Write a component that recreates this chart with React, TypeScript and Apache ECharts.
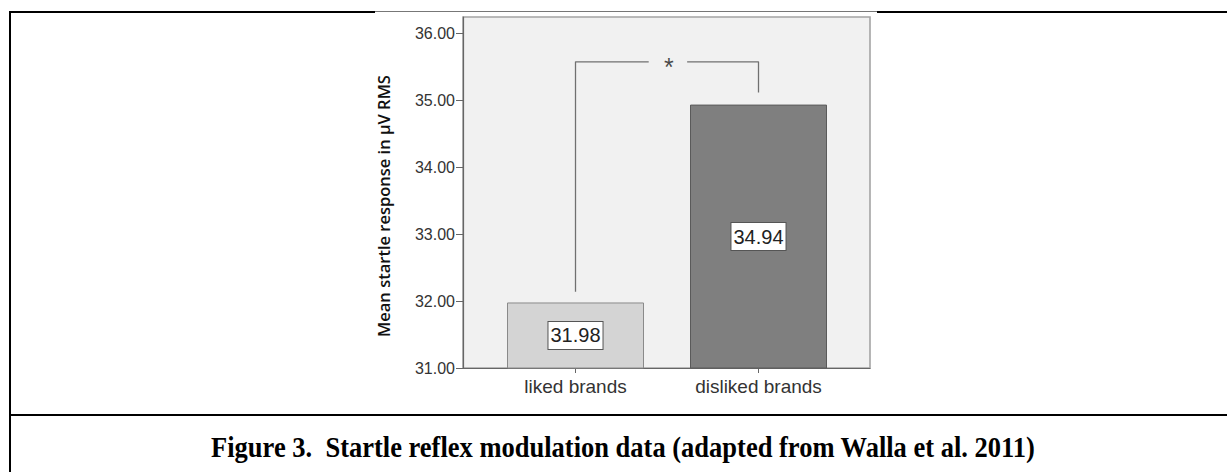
import React, { useEffect, useRef } from "react";
import * as echarts from "echarts";

const categories = ["liked brands", "disliked brands"];
const categoryPositions = [0, 1];
const meanValues = [31.98, 34.94];
const barColors = ["#d4d4d4", "#7f7f7f"];
const barBorders = ["#8a8a8a", "#5a5a5a"];
const yTicks = [31, 32, 33, 34, 35, 36];
const bracketLeft = [[0, 32.14], [0, 35.58], [0.4, 35.58]];
const bracketRight = [[0.61, 35.58], [1, 35.58], [1, 35.12]];
const starPoint = [[0.51, 35.58]];
const yAxisTitle = "Mean startle response in µV RMS";
const caption = "Figure 3.  Startle reflex modulation data (adapted from Walla et al. 2011)";

export default function App() {
  const ref = useRef<HTMLDivElement>(null);
  useEffect(() => {
    if (!ref.current) return;
    const chart = echarts.init(ref.current, null, { renderer: "svg" });
    const option: any = {
      animation: false,
      backgroundColor: "#ffffff",
      grid: {
        left: 463,
        right: 357,
        top: 17,
        bottom: 104,
        show: true,
        backgroundColor: "#f1f1f1",
        borderColor: "#a4a4a4",
        borderWidth: 1.6,
      },
      graphic: [
        { type: "line", shape: { x1: 10, y1: 12, x2: 10, y2: 472 }, style: { stroke: "#000", lineWidth: 2 } },
        { type: "line", shape: { x1: 9, y1: 12, x2: 375, y2: 12 }, style: { stroke: "#000", lineWidth: 2 } },
        { type: "line", shape: { x1: 375, y1: 11.5, x2: 877, y2: 11.5 }, style: { stroke: "#777", lineWidth: 1 } },
        { type: "line", shape: { x1: 877, y1: 12, x2: 1227, y2: 12 }, style: { stroke: "#000", lineWidth: 2 } },
        { type: "line", shape: { x1: 9, y1: 415, x2: 1227, y2: 415 }, style: { stroke: "#000", lineWidth: 2 } },
        {
          type: "text",
          x: 623,
          y: 447,
          scaleY: 1.08,
          style: {
            text: caption,
            fontFamily: "Liberation Serif",
            fontWeight: "bold",
            fontSize: 26.5,
            fill: "#000",
            align: "center",
            verticalAlign: "middle",
          },
        },
      ],
      xAxis: {
        type: "value",
        min: -0.6148,
        max: 1.6093,
        splitLine: { show: false },
        axisLine: { show: true, onZero: false, lineStyle: { color: "#666", width: 1.2 } },
        axisTick: { show: true, length: 5, customValues: categoryPositions, lineStyle: { color: "#666" } },
        axisLabel: {
          fontFamily: "Liberation Sans",
          fontSize: 19,
          color: "#333",
          margin: 9,
          customValues: categoryPositions,
          formatter: (v: number) => categories[Math.round(v)] ?? "",
        },
      },
      yAxis: {
        type: "value",
        min: 31,
        max: 36.25,
        name: yAxisTitle,
        nameLocation: "middle",
        nameGap: 71,
        nameTextStyle: {
          fontFamily: "Open Sans",
          fontWeight: 600,
          fontSize: 16.5,
          color: "#111",
          padding: [0, 27, 0, 0],
        },
        axisLine: { show: true, onZero: false, lineStyle: { color: "#666", width: 1.2 } },
        axisTick: { show: true, length: 7, customValues: yTicks, lineStyle: { color: "#666" } },
        axisLabel: {
          fontFamily: "Liberation Sans",
          fontSize: 16,
          color: "#333",
          margin: 8,
          customValues: yTicks,
          formatter: (v: number) => v.toFixed(2),
        },
        splitLine: { show: false },
      },
      series: [
        {
          type: "bar",
          data: meanValues.map((v, i) => ({
            value: [categoryPositions[i], v],
            itemStyle: { color: barColors[i], borderColor: barBorders[i], borderWidth: 1 },
          })),
          barWidth: 137,
          label: {
            show: true,
            position: "inside",
            formatter: (p: any) => p.value[1].toFixed(2),
            fontFamily: "Liberation Sans",
            fontSize: 20,
            color: "#222",
            backgroundColor: "#fff",
            borderColor: "#555",
            borderWidth: 1,
            padding: [4, 2, 3, 2],
          },
          z: 2,
        },
        {
          type: "line",
          data: bracketLeft,
          symbol: "none",
          lineStyle: { color: "#707070", width: 1.3 },
          z: 3,
        },
        {
          type: "line",
          data: bracketRight,
          symbol: "none",
          lineStyle: { color: "#707070", width: 1.3 },
          z: 3,
        },
        {
          type: "scatter",
          data: starPoint,
          symbolSize: 0,
          label: {
            show: true,
            position: "inside",
            formatter: "*",
            fontFamily: "Liberation Sans",
            fontSize: 25,
            color: "#1a1a1a",
            offset: [0, 5],
          },
          z: 3,
        },
      ],
    };
    chart.setOption(option);
    return () => chart.dispose();
  }, []);
  return (
    <div
      ref={ref}
      style={{ position: "fixed", left: 0, top: 0, width: 1227, height: 472 }}
    />
  );
}
